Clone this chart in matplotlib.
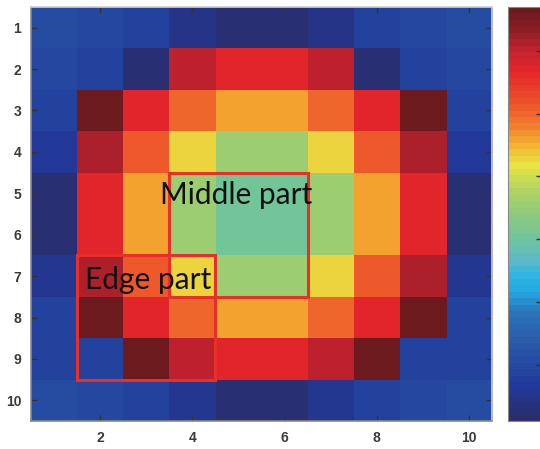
import numpy as np
import matplotlib
matplotlib.use("Agg")
import matplotlib.pyplot as plt
from matplotlib.colors import LinearSegmentedColormap
from matplotlib.patches import Rectangle

# 10x10 intensity map (rows 1..10 top to bottom, columns 1..10)
row_labels = [1, 2, 3, 4, 5, 6, 7, 8, 9, 10]
col_ticks = [2, 4, 6, 8, 10]
values = [
    [0.209, 0.196, 0.189, 0.150, 0.123, 0.123, 0.150, 0.189, 0.196, 0.209],
    [0.196, 0.183, 0.123, 0.704, 0.671, 0.671, 0.704, 0.123, 0.183, 0.196],
    [0.189, 0.763, 0.671, 0.598, 0.559, 0.559, 0.598, 0.671, 0.763, 0.189],
    [0.163, 0.717, 0.612, 0.526, 0.460, 0.460, 0.526, 0.612, 0.717, 0.163],
    [0.123, 0.671, 0.559, 0.460, 0.407, 0.407, 0.460, 0.559, 0.671, 0.123],
    [0.123, 0.671, 0.559, 0.460, 0.407, 0.407, 0.460, 0.559, 0.671, 0.123],
    [0.156, 0.717, 0.612, 0.526, 0.460, 0.460, 0.526, 0.612, 0.717, 0.156],
    [0.183, 0.763, 0.671, 0.598, 0.559, 0.559, 0.598, 0.671, 0.763, 0.183],
    [0.189, 0.183, 0.763, 0.704, 0.671, 0.671, 0.704, 0.763, 0.183, 0.189],
    [0.209, 0.196, 0.189, 0.156, 0.123, 0.123, 0.156, 0.189, 0.196, 0.209],
]
vmin, vmax = 0.11, 0.77
cbar_ticks = [0.2, 0.3, 0.4, 0.5, 0.6, 0.7]

# regions outlined on the map: (x0, y0, x1, y1) in cell coordinates
middle_region = (3.5, 4.5, 6.5, 7.5)
edge_region = (1.5, 6.5, 4.5, 9.5)

cmap = LinearSegmentedColormap.from_list("custom", [
    (0.00, "#2b2d6a"), (0.08, "#21399a"), (0.18, "#2a58a8"),
    (0.26, "#2c74b8"), (0.31, "#22a8e0"), (0.35, "#30b4e4"),
    (0.38, "#5ab8cc"), (0.44, "#70c49c"), (0.50, "#90ca7c"),
    (0.55, "#aad266"), (0.62, "#e8e444"), (0.67, "#f5b030"),
    (0.72, "#f07a2e"), (0.78, "#ec4c2a"), (0.85, "#e6262a"),
    (0.90, "#c42230"), (0.95, "#8c1e24"), (1.00, "#6c1a1e"),
], N=64)

fig = plt.figure(figsize=(5.4, 4.49), dpi=100)
W, H = 540, 449
ax = fig.add_axes([31 / W, 1 - 421 / H, (492 - 31) / W, (421 - 7) / H])
cax = fig.add_axes([508 / W, 1 - 421 / H, 34 / W, (421 - 7) / H])

data = np.array(values)
im = ax.imshow(data, cmap=cmap, vmin=vmin, vmax=vmax, aspect="auto",
               extent=(0.5, 10.5, 10.5, 0.5), interpolation="nearest")

ax.set_xticks(col_ticks)
ax.set_yticks(row_labels)
ax.tick_params(direction="in", top=True, right=True, length=4, width=1,
               color="#333333", labelsize=10, labelcolor="#3a3a3a", pad=7)
for lab in ax.get_xticklabels() + ax.get_yticklabels():
    lab.set_fontfamily("Liberation Sans")
    lab.set_fontweight("bold")
for side, sp in ax.spines.items():
    sp.set_color("#8a8a8a" if side in ("left", "bottom") else "#d0d0d0")
    sp.set_linewidth(1.2)

for (x0, y0, x1, y1) in (middle_region, edge_region):
    ax.add_patch(Rectangle((x0, y0), x1 - x0, y1 - y0, fill=False,
                           edgecolor="#e8302a", linewidth=2.2, zorder=3))

ax.text(3.30, 5.25, "Middle part", fontsize=21.5, family="Lato",
        color="#111111", va="baseline", ha="left", zorder=4)
ax.text(1.68, 7.3, "Edge part", fontsize=21.5, family="Lato",
        color="#111111", va="baseline", ha="left", zorder=4)

cb = fig.colorbar(im, cax=cax, ticks=cbar_ticks)
cb.ax.tick_params(direction="in", length=4, width=1, color="#333333")
cb.ax.set_yticklabels([])
cb.outline.set_edgecolor("#888888")

fig.savefig("out.png", dpi=100)
